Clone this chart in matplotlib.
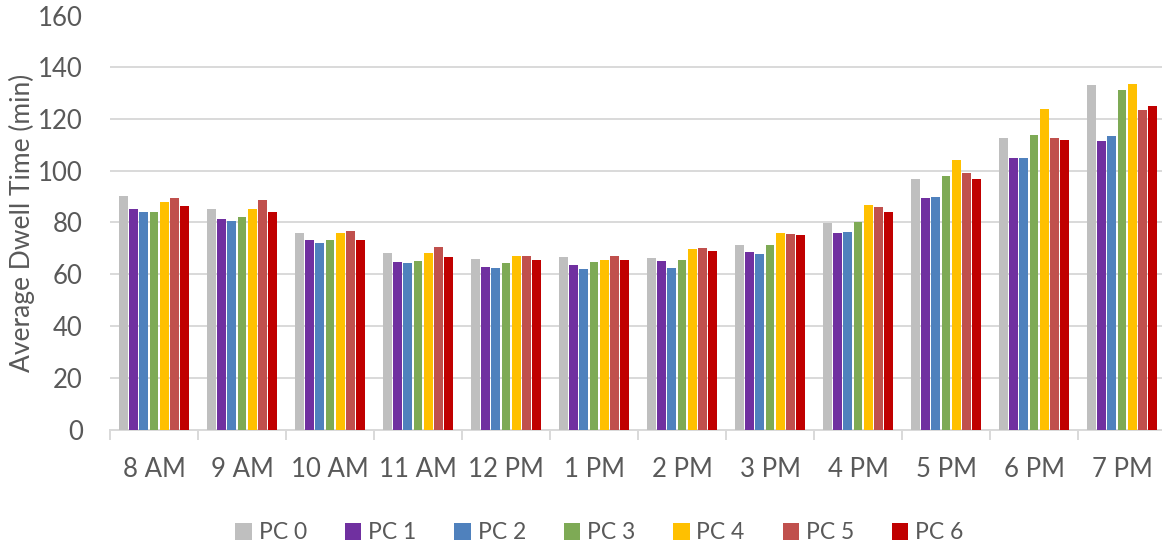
import matplotlib
matplotlib.use("Agg")
import matplotlib.pyplot as plt
import numpy as np

plt.rcParams['font.family'] = ['Lato', 'DejaVu Sans']

hours = ["8 AM", "9 AM", "10 AM", "11 AM", "12 PM", "1 PM",
         "2 PM", "3 PM", "4 PM", "5 PM", "6 PM", "7 PM"]

pc0 = [90.3, 85.4, 75.9, 68.2, 65.9, 66.7, 66.3, 71.3, 79.8, 96.8, 112.6, 133.1]
pc1 = [85.2, 81.2, 73.2, 64.7, 62.8, 63.6, 65.1, 68.6, 75.9, 89.5, 104.9, 111.5]
pc2 = [84.0, 80.5, 72.0, 64.3, 62.4, 62.0, 62.4, 67.8, 76.3, 89.8, 104.9, 113.4]
pc3 = [84.0, 82.0, 73.2, 65.1, 64.3, 64.7, 65.5, 71.3, 80.2, 98.0, 113.8, 131.2]
pc4 = [87.9, 85.4, 75.9, 68.2, 67.0, 65.5, 69.8, 75.9, 86.8, 104.1, 123.9, 133.5]
pc5 = [89.4, 88.7, 76.7, 70.5, 67.0, 67.0, 70.2, 75.5, 85.8, 99.1, 112.6, 123.5]
pc6 = [86.3, 84.2, 73.2, 66.7, 65.5, 65.5, 68.9, 75.1, 84.1, 96.8, 111.9, 125.0]

series_names = ["PC 0", "PC 1", "PC 2", "PC 3", "PC 4", "PC 5", "PC 6"]
series = [pc0, pc1, pc2, pc3, pc4, pc5, pc6]
colors = ["#BFBFBF", "#7030A0", "#4F81BD", "#7EAA55", "#FFC000", "#C0504D", "#C00000"]

text_color = "#595959"
grid_color = "#D9D9D9"

fig = plt.figure(figsize=(11.62, 5.45), dpi=100)
ax = fig.add_axes([110 / 1162, (545 - 429.5) / 545, 1056 / 1162, 414 / 545])

x = np.arange(len(hours))
pitch = 0.116
width = 0.102
for i, (name, vals, c) in enumerate(zip(series_names, series, colors)):
    ax.bar(x + (i - 3) * pitch, vals, width=width, color=c, label=name,
           zorder=3, linewidth=0)

ax.set_xlim(-0.5, len(hours) - 0.5)
ax.set_ylim(0, 160)
ax.set_yticks(np.arange(0, 161, 20))
ax.yaxis.grid(True, color=grid_color, linewidth=1.4, zorder=0)
ax.set_axisbelow(True)

for s in ["top", "right", "left"]:
    ax.spines[s].set_visible(False)
ax.spines["bottom"].set_color(grid_color)
ax.spines["bottom"].set_linewidth(1.4)

# category separators below the baseline, labels centred between them
ax.set_xticks(np.arange(-0.5, len(hours), 1.0))
ax.set_xticklabels([])
ax.tick_params(axis="x", which="major", length=7.5, width=1.4, color=grid_color)
ax.set_xticks(x, minor=True)
ax.set_xticklabels(hours, minor=True)
ax.tick_params(axis="x", which="minor", length=0, pad=20,
               labelsize=18.5, labelcolor=text_color)
ax.tick_params(axis="y", length=0, pad=19.5, labelsize=18.5, labelcolor=text_color)

ax.set_ylabel("Average Dwell Time (min)", fontsize=19, color=text_color, labelpad=2)

fig.legend(loc="lower center", bbox_to_anchor=(0.516, -0.035), ncol=7,
           frameon=False, fontsize=16.5, labelcolor=text_color,
           handlelength=0.72, handleheight=0.72, handletextpad=0.3,
           columnspacing=1.65)

fig.savefig("out.png", dpi=100)
